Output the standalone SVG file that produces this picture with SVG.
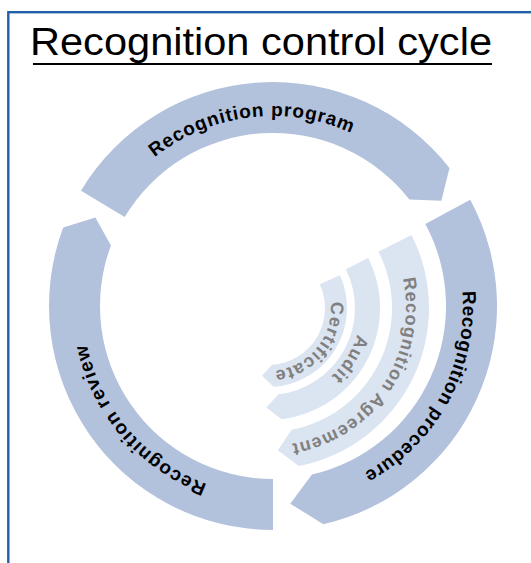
<svg xmlns="http://www.w3.org/2000/svg" width="531" height="563" viewBox="0 0 531 563">
<style>
.ring{fill:#b2c1dc}
.inner{fill:#dbe4f1}
.lbl{font-family:"Liberation Sans",Arial,sans-serif;font-weight:bold;font-size:19px;fill:#000}
.ilbl{font-family:"Liberation Sans",Arial,sans-serif;font-weight:bold;font-size:18px;fill:#808080}
</style>
<defs>
<path id="tpProgram" d="M83.12,312.63 A190,190 0 0 1 458.85,266.50"/>
<path id="tpProcedure" d="M377.87,147.56 A190,190 0 0 1 197.24,480.24"/>
<path id="tpReview" d="M382.79,461.07 A190,190 0 0 1 136.90,173.42"/>
<path id="tpCert" d="M312.16,263.07 A63,63 0 0 1 232.32,359.92"/>
<path id="tpAudit" d="M323.97,233.73 A93,93 0 0 1 225.78,390.86"/>
<path id="tpAgree" d="M354.85,200.75 A138,138 0 0 1 201.10,428.70"/>
</defs>
<rect x="0" y="0" width="531" height="563" fill="#fff"/>
<rect id="frame" x="8.3" y="12.2" width="540" height="570" fill="none" stroke="#2060a8" stroke-width="2.4"/>
<g id="title">
<text x="30" y="55" font-family="Liberation Sans,Arial,sans-serif" font-size="39" textLength="462" lengthAdjust="spacingAndGlyphs" fill="#000">Recognition control cycle</text>
<line x1="33" y1="64" x2="492" y2="64" stroke="#000" stroke-width="2"/>
</g>
<g id="node-program">
<path class="ring" d="M80.99,190.63 A224,224 0 0 1 449.51,168.09 L441.34,200.81 L409.33,199.49 A173,173 0 0 0 124.71,216.90 Z"/>
<text class="lbl" letter-spacing="0.9"><textPath href="#tpProgram" startOffset="50%" text-anchor="middle">Recognition program</textPath></text>
</g>
<g id="node-procedure">
<path class="ring" d="M470.23,199.80 A224,224 0 0 1 323.39,524.26 L290.30,503.74 L311.92,474.57 A173,173 0 0 0 425.32,223.98 Z"/>
<text class="lbl" letter-spacing="0.5"><textPath href="#tpProcedure" startOffset="50%" text-anchor="middle">Recognition procedure</textPath></text>
</g>
<g id="node-review">
<path class="ring" d="M273,530 A224,224 0 0 1 63.19,227.55 L95.36,217.43 L110.96,245.41 A173,173 0 0 0 273,479 Z"/>
<text class="lbl" letter-spacing="1.05"><textPath href="#tpReview" startOffset="50%" text-anchor="middle">Recognition review</textPath></text>
</g>
<g id="node-agreement">
<path class="inner" d="M411.45,234.91 A161,161 0 0 1 298.72,466.04 L277.94,450.15 L291.66,429.72 A124,124 0 0 0 378.49,251.71 Z"/>
<text class="ilbl" letter-spacing="1"><textPath href="#tpAgree" startOffset="50%" text-anchor="middle">Recognition Agreement</textPath></text>
</g>
<g id="node-audit">
<path class="inner" d="M368.23,258.03 A112,112 0 0 1 281.65,419.17 L266.26,407.49 L278.60,394.35 A87,87 0 0 0 345.86,269.18 Z"/>
<text class="ilbl" letter-spacing="1"><textPath href="#tpAudit" startOffset="50%" text-anchor="middle">Audit</textPath></text>
</g>
<g id="node-certificate">
<path class="inner" d="M339.89,275.24 A79,79 0 0 1 273.51,386.81 L262.07,375.74 L271.98,364.86 A57,57 0 0 0 319.87,284.36 Z"/>
<text class="ilbl" font-size="17" letter-spacing="1"><textPath href="#tpCert" startOffset="50%" text-anchor="middle">Certificate</textPath></text>
</g>
</svg>
